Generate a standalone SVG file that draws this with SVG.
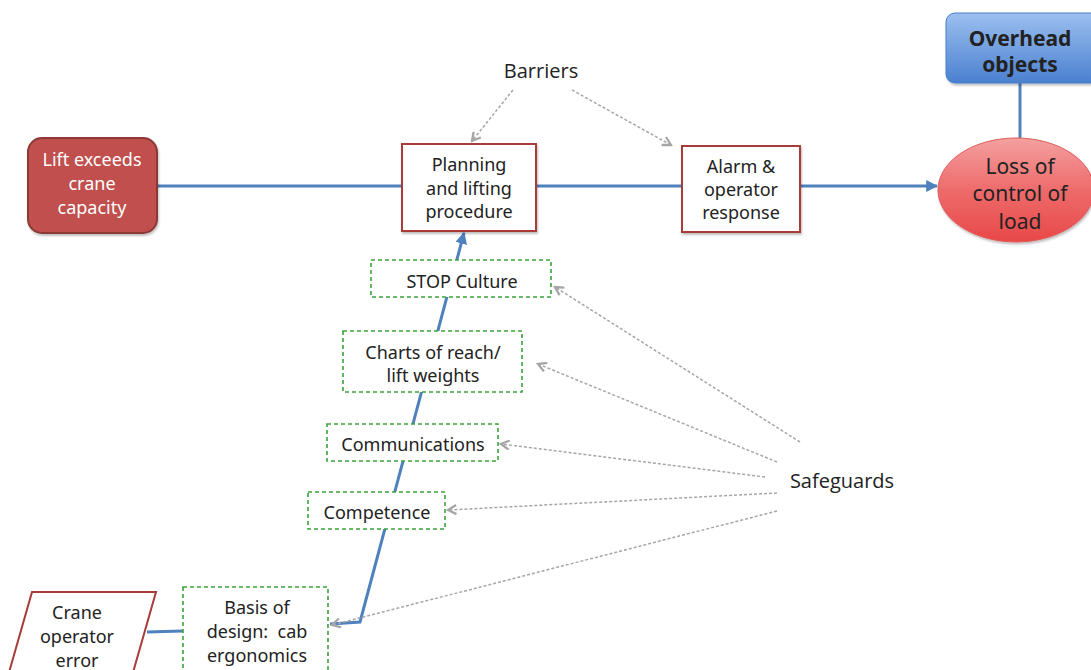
<svg xmlns="http://www.w3.org/2000/svg" width="1091" height="670" viewBox="0 0 1091 670">
<defs>
<linearGradient id="gRed" x1="0" y1="0" x2="0" y2="1"><stop offset="0" stop-color="#f4a0a0"/><stop offset="0.5" stop-color="#ee6b6b"/><stop offset="1" stop-color="#e84848"/></linearGradient>
<linearGradient id="gBlue" x1="0" y1="0" x2="0" y2="1"><stop offset="0" stop-color="#9cc0ef"/><stop offset="1" stop-color="#4a80d0"/></linearGradient>
<marker id="blueArrow" viewBox="0 0 10 10" refX="9" refY="5" markerWidth="4" markerHeight="4" orient="auto" markerUnits="strokeWidth"><path d="M0,0 L10,5 L0,10 z" fill="#4f81bd"/></marker>
<marker id="grayArrow" viewBox="0 0 12 12" refX="10" refY="6" markerWidth="11" markerHeight="11" orient="auto" markerUnits="userSpaceOnUse"><path d="M1,1 L10,6 L1,11" fill="none" stroke="#a6a6a6" stroke-width="2.5"/></marker>
<filter id="sh" x="-10%" y="-10%" width="130%" height="130%"><feDropShadow dx="1" dy="2" stdDeviation="1.2" flood-color="#000" flood-opacity="0.25"/></filter>
</defs>
<style>
.txt{font-family:"Noto Sans","DejaVu Sans",sans-serif;font-size:18px;fill:#222;text-anchor:middle}
.big{font-size:21px}
.lbl{font-family:"Open Sans","Liberation Sans",sans-serif;font-size:20px;fill:#222;text-anchor:middle}
.blue{stroke:#4f81bd;stroke-width:3;fill:none}
.gray{stroke:#a6a6a6;stroke-width:1.5;fill:none;stroke-dasharray:3 2}
.red{fill:#fff;stroke:#a93b38;stroke-width:2}
.green{fill:#fff;stroke:#3aa53a;stroke-width:1.6;stroke-dasharray:4 3}
</style>
<rect width="1091" height="670" fill="#fff"/>
<g id="connectors">
<line class="blue" x1="157" y1="186" x2="402" y2="186"/>
<line class="blue" x1="536" y1="186" x2="682" y2="186"/>
<line class="blue" x1="800" y1="186" x2="937" y2="186" marker-end="url(#blueArrow)"/>
<line class="blue" x1="1020" y1="83" x2="1020" y2="138"/>
<polyline class="blue" points="330,624 360,622 464,233" marker-end="url(#blueArrow)"/>
<line class="blue" x1="147" y1="632" x2="183" y2="631"/>
<line class="gray" x1="513" y1="90" x2="472" y2="141" marker-end="url(#grayArrow)"/>
<line class="gray" x1="572" y1="90" x2="671" y2="145" marker-end="url(#grayArrow)"/>
<line class="gray" x1="800" y1="442" x2="555" y2="287" marker-end="url(#grayArrow)"/>
<line class="gray" x1="777" y1="462" x2="538" y2="364" marker-end="url(#grayArrow)"/>
<line class="gray" x1="765" y1="477" x2="501" y2="444" marker-end="url(#grayArrow)"/>
<line class="gray" x1="777" y1="493" x2="448" y2="510" marker-end="url(#grayArrow)"/>
<line class="gray" x1="777" y1="511" x2="332" y2="625" marker-end="url(#grayArrow)"/>
</g>
<g id="lift">
<rect x="28" y="138" width="129" height="95" rx="14" fill="#c0504d" stroke="#8c3836" stroke-width="2" filter="url(#sh)"/>
<text class="txt" style="fill:#fff" x="92" y="166">Lift exceeds</text>
<text class="txt" style="fill:#fff" x="92" y="190">crane</text>
<text class="txt" style="fill:#fff" x="92" y="214">capacity</text>
</g>
<g id="planning">
<rect class="red" x="402" y="144" width="134" height="87" filter="url(#sh)"/>
<text class="txt" x="469" y="171">Planning</text>
<text class="txt" x="469" y="195">and lifting</text>
<text class="txt" x="469" y="218">procedure</text>
</g>
<g id="alarm">
<rect class="red" x="682" y="146" width="118" height="86" filter="url(#sh)"/>
<text class="txt" x="741" y="173">Alarm &amp;</text>
<text class="txt" x="741" y="196">operator</text>
<text class="txt" x="741" y="219">response</text>
</g>
<g id="loss">
<ellipse cx="1016" cy="190" rx="78" ry="52" fill="url(#gRed)" stroke="#e05a5a" stroke-width="1" filter="url(#sh)"/>
<text class="txt big" x="1020" y="174">Loss of</text>
<text class="txt big" x="1020" y="201">control of</text>
<text class="txt big" x="1020" y="229">load</text>
</g>
<g id="overhead">
<rect x="946" y="13" width="160" height="70" rx="9" fill="url(#gBlue)" stroke="#4a7ec8" stroke-width="1" filter="url(#sh)"/>
<text class="txt big" style="font-weight:bold" x="1020" y="46">Overhead</text>
<text class="txt big" style="font-weight:bold" x="1020" y="72">objects</text>
</g>
<g id="barriers">
<text class="lbl" x="541" y="78">Barriers</text>
</g>
<g id="safeguards">
<text class="lbl" x="842" y="488">Safeguards</text>
</g>
<g id="stop">
<rect class="green" x="371" y="260" width="180" height="37"/>
<text class="txt" x="462" y="288">STOP Culture</text>
</g>
<g id="charts">
<rect class="green" x="343" y="331" width="179" height="61"/>
<text class="txt" x="433" y="359">Charts of reach/</text>
<text class="txt" x="433" y="382">lift weights</text>
</g>
<g id="communications">
<rect class="green" x="327" y="424" width="171" height="37"/>
<text class="txt" x="413" y="451">Communications</text>
</g>
<g id="competence">
<rect class="green" x="308" y="492" width="137" height="37"/>
<text class="txt" x="377" y="519">Competence</text>
</g>
<g id="basis">
<rect class="green" x="183" y="587" width="145" height="95"/>
<text class="txt" x="257" y="614">Basis of</text>
<text class="txt" style="white-space:pre" x="257" y="638">design:  cab</text>
<text class="txt" x="257" y="662">ergonomics</text>
</g>
<g id="crane">
<polygon class="red" points="32,592 156,592 128,690 4,690"/>
<text class="txt" x="77" y="619">Crane</text>
<text class="txt" x="77" y="643">operator</text>
<text class="txt" x="77" y="667">error</text>
</g>
</svg>
